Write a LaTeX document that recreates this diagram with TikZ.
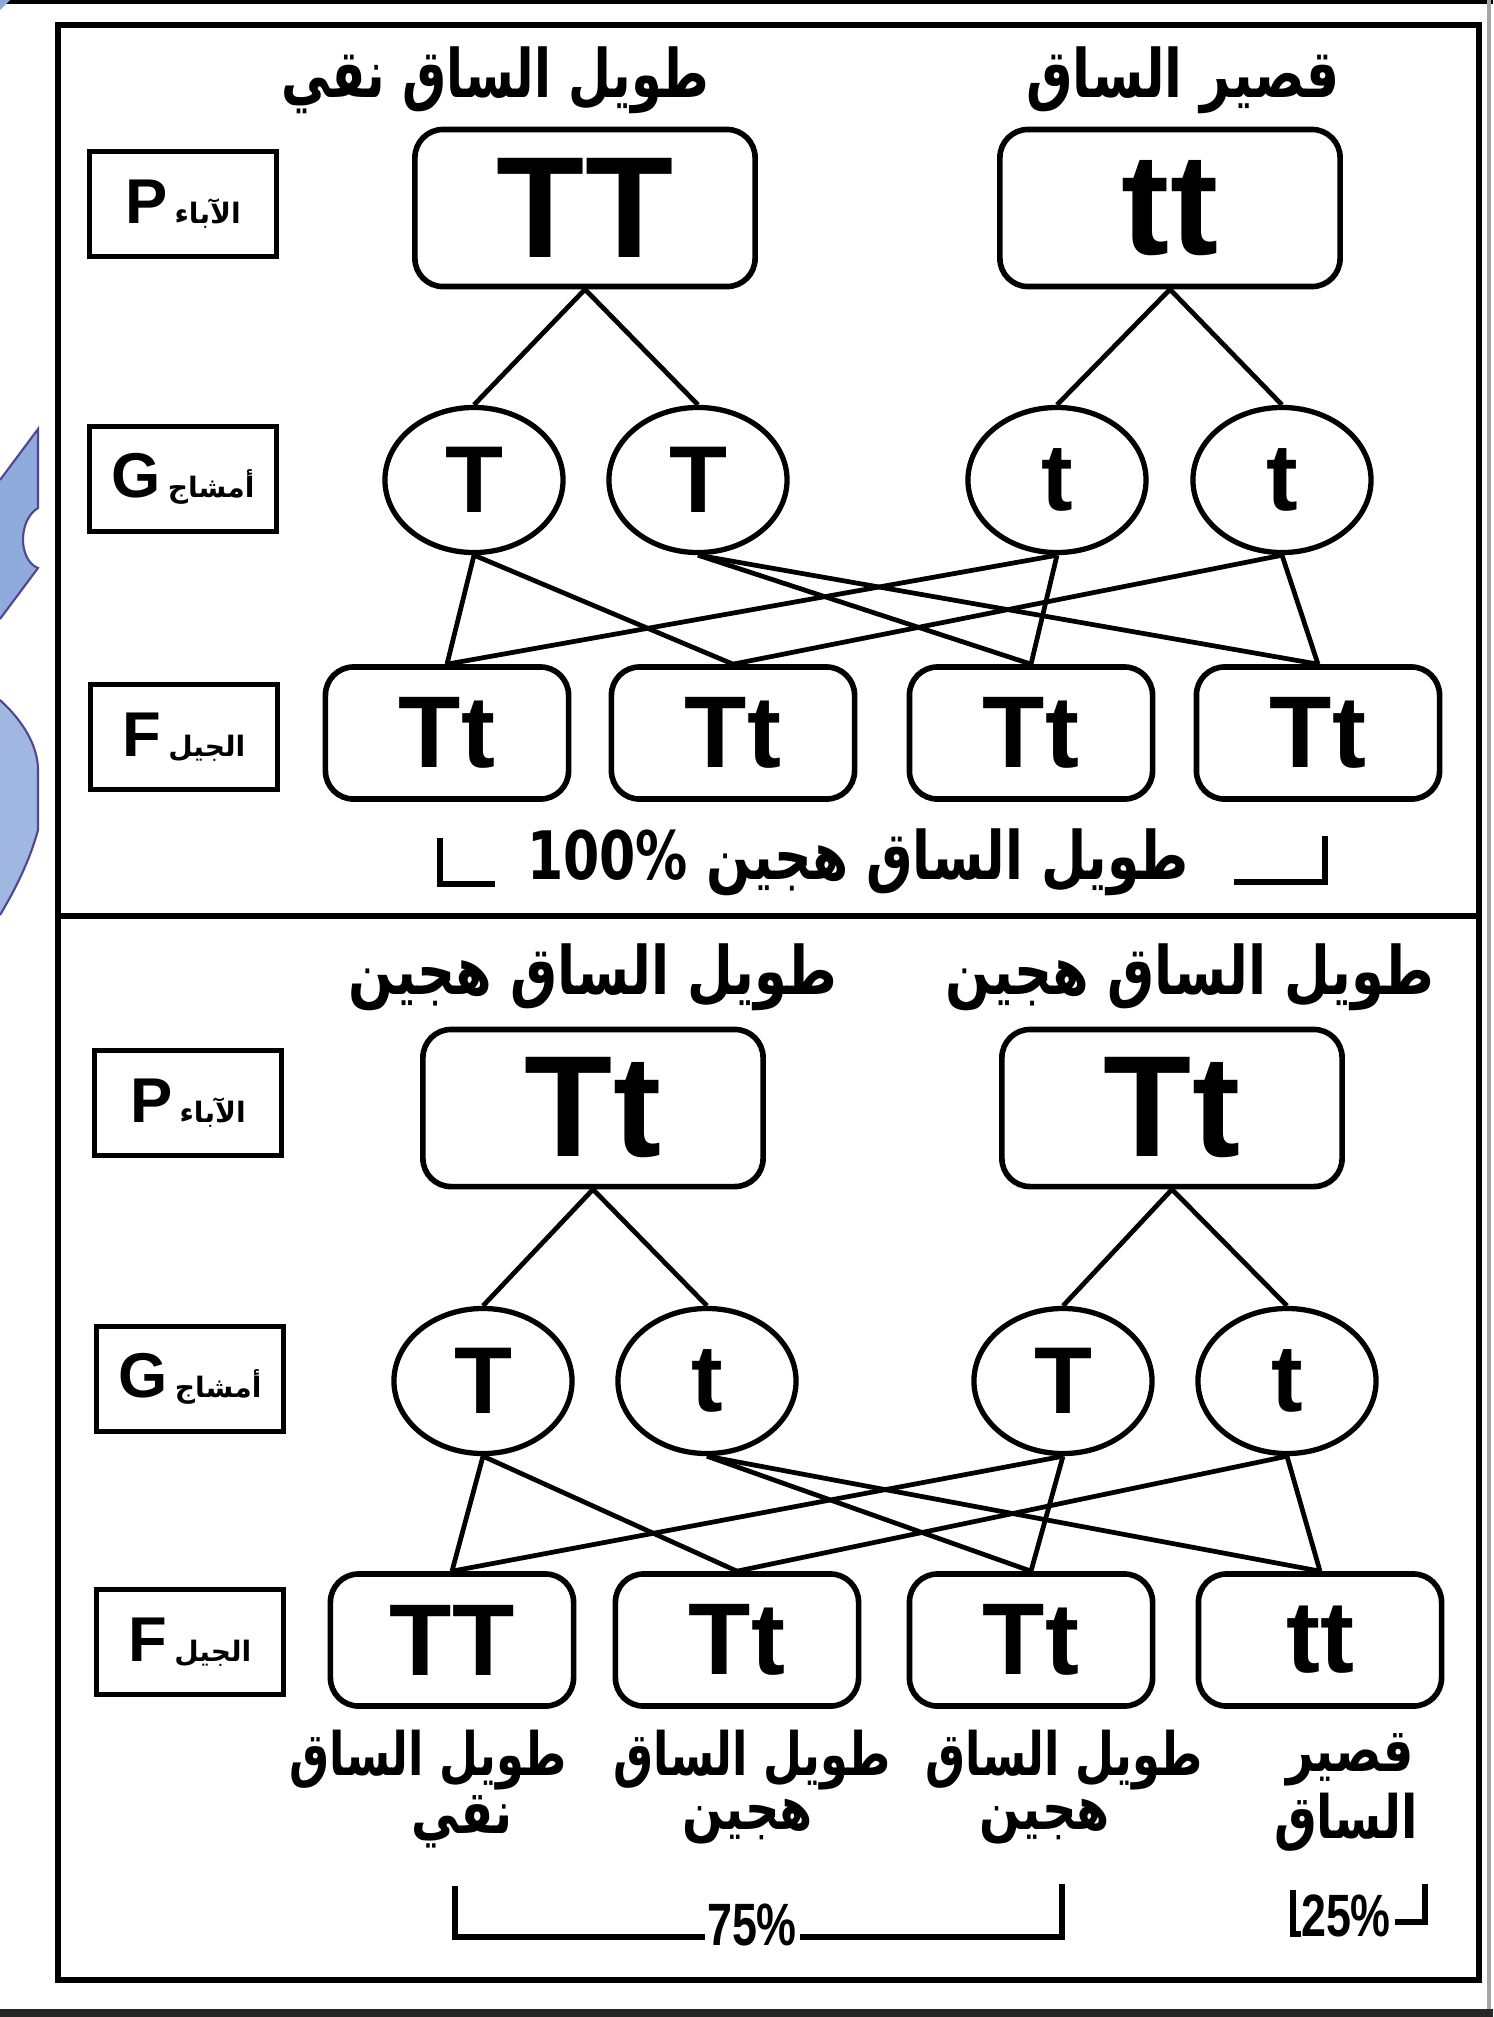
\documentclass[tikz,border=0pt]{standalone}
\usepackage{graphicx}
\usepackage{fontspec}
\setmainfont{Liberation Sans}
\newfontfamily\arabicfont[Script=Arabic]{DejaVu Sans}
\TeXXeTstate=1
\usetikzlibrary{shapes.geometric}
\definecolor{edgeblue}{RGB}{143,170,220}
\definecolor{edgeline}{RGB}{80,70,150}
\tikzset{
  frame/.style={line width=1.8pt},
  pbox/.style={draw, line width=1.6pt, rounded corners=8pt, minimum width=3.4cm, minimum height=1.57cm, inner sep=0pt, font=\fontsize{41}{41}\selectfont\bfseries},
  gam/.style={draw, ellipse, line width=1.5pt, minimum width=1.78cm, minimum height=1.45cm, inner sep=0pt, font=\fontsize{27}{27}\selectfont\bfseries},
  fbox/.style={draw, line width=1.6pt, rounded corners=8pt, minimum width=2.43cm, minimum height=1.32cm, inner sep=0pt, font=\fontsize{29}{29}\selectfont\bfseries},
  lbl/.style={draw, line width=1.6pt, minimum width=1.87cm, minimum height=1.05cm, inner sep=0pt},
  link/.style={line width=1.35pt},
  ar/.style={inner sep=0pt, font=\arabicfont\bfseries\fontsize{19}{22}\selectfont},
  arsm/.style={inner sep=0pt, font=\arabicfont\bfseries\fontsize{17}{20}\selectfont},
  pct/.style={inner sep=0pt, font=\fontsize{17}{17}\selectfont\bfseries},
  brk/.style={line width=1.5pt},
}
\newcommand{\narrow}[2]{\scalebox{#1}[1]{#2}}
\begin{document}
\begin{tikzpicture}[x=0.01cm,y=-0.01cm]
\useasboundingbox (0,0) rectangle (1493,2017);
\fill[white] (0,0) rectangle (1493,2017);
% screenshot edges
\fill[black] (0,0) rectangle (1493,4);
\fill[black!85] (0,2009) rectangle (1493,2017);
\draw[black!35, line width=1pt] (1489,0) -- (1489,2009);
\fill[edgeblue] (0,0) -- (10,0) -- (0,10) -- cycle;
\draw[edgeline, fill=edgeblue, line width=0.6pt] (0,480) -- (38,429) -- (38,508) .. controls (18,520) and (18,560) .. (38,568) -- (0,619);
\draw[edgeline, fill=edgeblue!85!white, line width=0.6pt] (0,700) .. controls (22,720) and (38,745) .. (38,770) -- (38,830) .. controls (30,860) and (15,890) .. (0,915);
% outer frame and divider
\draw[frame] (58,25) rectangle (1479,1980);
\draw[frame] (58,916) -- (1479,916);

% ================= TOP SECTION =================
\node[ar] (tl1) at (495,80) {\narrow{0.74}{\beginR طويل الساق نقي\endR}};
\node[ar] (tr1) at (1183,80) {\narrow{0.78}{\beginR قصير الساق\endR}};

\node[lbl] (LP1) at (183,204) {{\fontsize{18}{18}\selectfont\bfseries P}\hspace{2pt}{\arabicfont\bfseries\fontsize{8}{8}\selectfont\beginR الآباء\endR}};
\node[lbl] (LG1) at (183,479) {{\fontsize{18}{18}\selectfont\bfseries G}\hspace{2pt}{\arabicfont\bfseries\fontsize{8}{8}\selectfont\beginR أمشاج\endR}};
\node[lbl] (LF1) at (184,737) {{\fontsize{18}{18}\selectfont\bfseries F}\hspace{2pt}{\arabicfont\bfseries\fontsize{8}{8}\selectfont\beginR الجيل\endR}};

\node[pbox] (PA) at (585,208) {TT};
\node[pbox] (PB) at (1170,208) {tt};

\node[gam] (g1) at (474,480) {T};
\node[gam] (g2) at (698,480) {T};
\node[gam] (g3) at (1057,480) {t};
\node[gam] (g4) at (1282,480) {t};

\node[fbox] (f1) at (447,733) {Tt};
\node[fbox] (f2) at (733,733) {Tt};
\node[fbox] (f3) at (1031,733) {Tt};
\node[fbox] (f4) at (1318,733) {Tt};

\draw[link] (PA.south) -- (g1.north);
\draw[link] (PA.south) -- (g2.north);
\draw[link] (PB.south) -- (g3.north);
\draw[link] (PB.south) -- (g4.north);
\draw[link] (g1.south) -- (f1.north);
\draw[link] (g1.south) -- (f2.north);
\draw[link] (g2.south) -- (f3.north);
\draw[link] (g2.south) -- (f4.north);
\draw[link] (g3.south) -- (f1.north);
\draw[link] (g3.south) -- (f3.north);
\draw[link] (g4.south) -- (f2.north);
\draw[link] (g4.south) -- (f4.north);

\node[ar] (res1) at (858,862) {\narrow{0.78}{\beginR طويل الساق هجين \beginL100\%\endL\endR}};
\coordinate (b1a) at (440,838);
\coordinate (b1b) at (440,884);
\coordinate (b1c) at (495,884);
\coordinate (b2a) at (1325,836);
\coordinate (b2b) at (1325,882);
\coordinate (b2c) at (1234,882);
\draw[brk] (b1a) -- (b1b) -- (b1c);
\draw[brk] (b2a) -- (b2b) -- (b2c);

% ================= BOTTOM SECTION =================
\node[ar] (tl2) at (593,977) {\narrow{0.79}{\beginR طويل الساق هجين\endR}};
\node[ar] (tr2) at (1190,977) {\narrow{0.79}{\beginR طويل الساق هجين\endR}};

\node[lbl] (LP2) at (188,1103) {{\fontsize{18}{18}\selectfont\bfseries P}\hspace{2pt}{\arabicfont\bfseries\fontsize{8}{8}\selectfont\beginR الآباء\endR}};
\node[lbl] (LG2) at (190,1379) {{\fontsize{18}{18}\selectfont\bfseries G}\hspace{2pt}{\arabicfont\bfseries\fontsize{8}{8}\selectfont\beginR أمشاج\endR}};
\node[lbl] (LF2) at (190,1642) {{\fontsize{18}{18}\selectfont\bfseries F}\hspace{2pt}{\arabicfont\bfseries\fontsize{8}{8}\selectfont\beginR الجيل\endR}};

\node[pbox] (PC) at (593,1108) {Tt};
\node[pbox] (PD) at (1172,1108) {Tt};

\node[gam] (h1) at (483,1381) {T};
\node[gam] (h2) at (707,1381) {t};
\node[gam] (h3) at (1063,1381) {T};
\node[gam] (h4) at (1287,1381) {t};

\node[fbox] (k1) at (452,1640) {TT};
\node[fbox] (k2) at (737,1640) {Tt};
\node[fbox] (k3) at (1031,1640) {Tt};
\node[fbox] (k4) at (1320,1640) {tt};

\draw[link] (PC.south) -- (h1.north);
\draw[link] (PC.south) -- (h2.north);
\draw[link] (PD.south) -- (h3.north);
\draw[link] (PD.south) -- (h4.north);
\draw[link] (h1.south) -- (k1.north);
\draw[link] (h1.south) -- (k2.north);
\draw[link] (h2.south) -- (k3.north);
\draw[link] (h2.south) -- (k4.north);
\draw[link] (h3.south) -- (k1.north);
\draw[link] (h3.south) -- (k3.north);
\draw[link] (h4.south) -- (k2.north);
\draw[link] (h4.south) -- (k4.north);

\node[arsm] (d1a) at (428,1760) {\narrow{0.75}{\beginR طويل الساق\endR}};
\node[arsm] (d1b) at (462,1822) {\narrow{0.8}{\beginR نقي\endR}};
\node[arsm] (d2a) at (752,1760) {\narrow{0.75}{\beginR طويل الساق\endR}};
\node[arsm] (d2b) at (748,1822) {\narrow{0.8}{\beginR هجين\endR}};
\node[arsm] (d3a) at (1064,1760) {\narrow{0.75}{\beginR طويل الساق\endR}};
\node[arsm] (d3b) at (1045,1822) {\narrow{0.8}{\beginR هجين\endR}};
\node[arsm] (d4a) at (1350,1760) {\narrow{0.8}{\beginR قصير\endR}};
\node[arsm] (d4b) at (1346,1822) {\narrow{0.8}{\beginR الساق\endR}};

\node[pct] (p75) at (752,1925) {\narrow{0.75}{75\%}};
\coordinate (c1a) at (455,1886);
\coordinate (c1b) at (455,1937);
\coordinate (c1c) at (705,1937);
\coordinate (c2a) at (800,1937);
\coordinate (c2b) at (1062,1937);
\coordinate (c2c) at (1062,1884);
\draw[brk] (c1a) -- (c1b) -- (c1c);
\draw[brk] (c2a) -- (c2b) -- (c2c);

\node[pct] (p25) at (1346,1916) {\narrow{0.75}{25\%}};
\coordinate (e1a) at (1293,1890);
\coordinate (e1b) at (1293,1934);
\coordinate (e1c) at (1301,1934);
\coordinate (e2a) at (1425,1884);
\coordinate (e2b) at (1425,1922);
\coordinate (e2c) at (1395,1922);
\draw[brk] (e1a) -- (e1b) -- (e1c);
\draw[brk] (e2a) -- (e2b) -- (e2c);
\end{tikzpicture}
\end{document}
